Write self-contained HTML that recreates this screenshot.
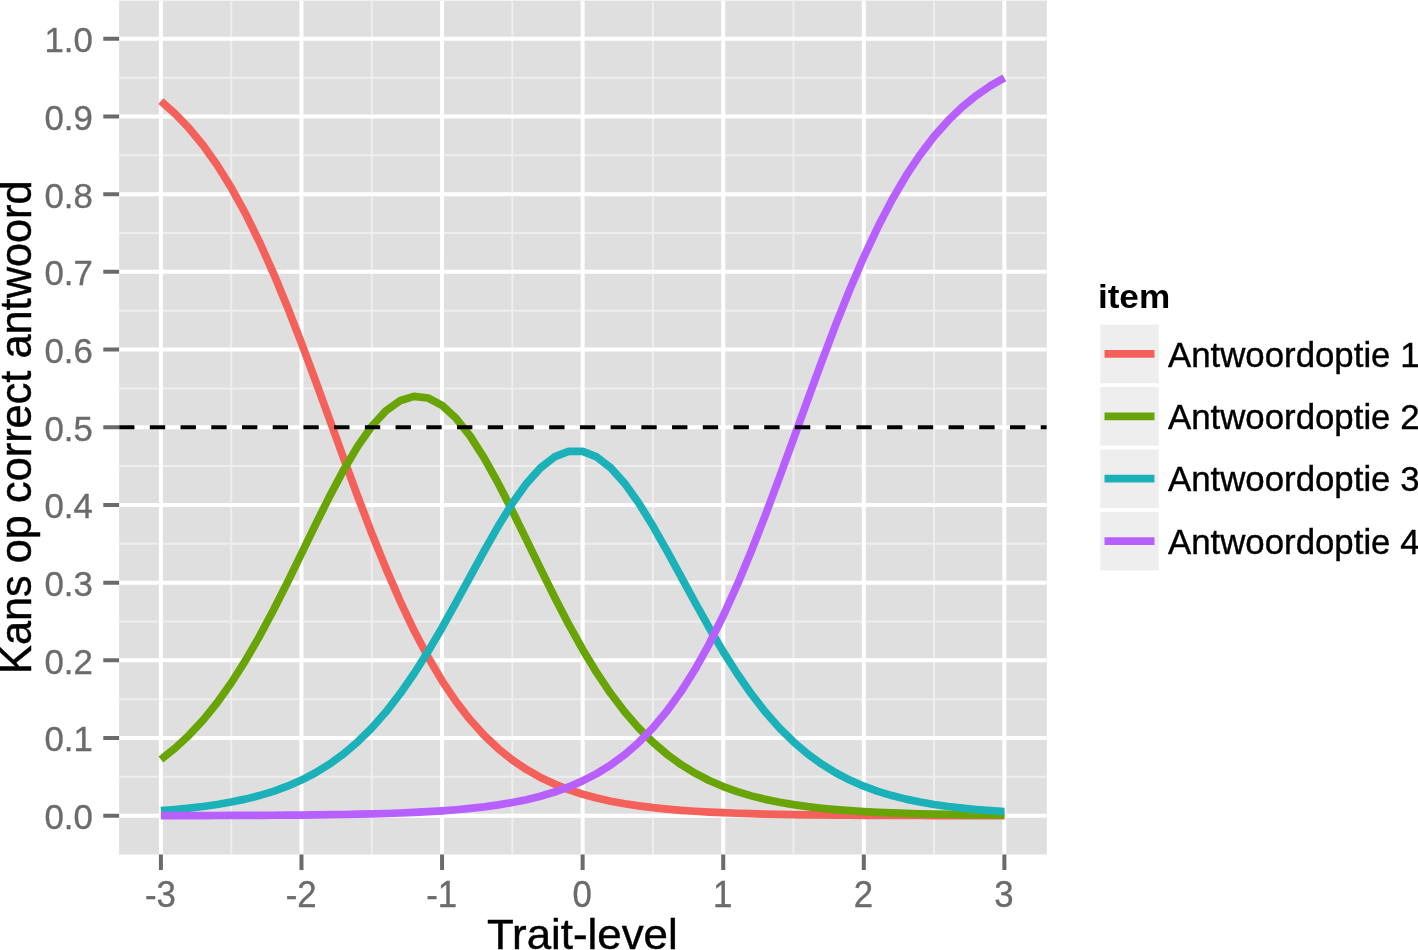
<!DOCTYPE html>
<html lang="nl"><head><meta charset="utf-8"><title>Trait-level</title>
<style>html,body{margin:0;padding:0;background:#fff;overflow:hidden}svg{display:block}</style>
</head><body>
<svg width="1418" height="950" viewBox="0 0 1418 950">
<rect x="0" y="0" width="1418" height="950" fill="#ffffff"/>
<rect x="119.1" y="0.6" width="927.7" height="853.9" fill="#DFDFDF"/>
<clipPath id="pc"><rect x="119.1" y="0.6" width="927.7" height="853.9"/></clipPath>
<g clip-path="url(#pc)">
<path d="M119.1 776.86H1046.8M119.1 699.17H1046.8M119.1 621.48H1046.8M119.1 543.79H1046.8M119.1 466.10H1046.8M119.1 388.41H1046.8M119.1 310.71H1046.8M119.1 233.02H1046.8M119.1 155.34H1046.8M119.1 77.64H1046.8M231.19 0.6V854.5M371.77 0.6V854.5M512.35 0.6V854.5M652.93 0.6V854.5M793.51 0.6V854.5M934.09 0.6V854.5" stroke="#EEEEEE" stroke-width="2" fill="none"/>
<path d="M119.1 815.70H1046.8M119.1 738.01H1046.8M119.1 660.32H1046.8M119.1 582.63H1046.8M119.1 504.94H1046.8M119.1 427.25H1046.8M119.1 349.56H1046.8M119.1 271.87H1046.8M119.1 194.18H1046.8M119.1 116.49H1046.8M119.1 38.80H1046.8M160.90 0.6V854.5M301.48 0.6V854.5M442.06 0.6V854.5M582.64 0.6V854.5M723.22 0.6V854.5M863.80 0.6V854.5M1004.38 0.6V854.5" stroke="#ffffff" stroke-width="4" fill="none"/>
<polyline points="160.90,101.09 174.96,113.55 189.02,128.20 203.07,145.28 217.13,165.02 231.19,187.61 245.25,213.16 259.31,241.69 273.36,273.06 287.42,307.02 301.48,343.14 315.54,380.86 329.60,419.48 343.65,458.26 357.71,496.43 371.77,533.26 385.83,568.14 399.89,600.59 413.94,630.28 428.00,657.03 442.06,680.79 456.12,701.66 470.18,719.78 484.23,735.37 498.29,748.67 512.35,759.95 526.41,769.46 540.47,777.43 554.52,784.08 568.58,789.62 582.64,794.22 596.70,798.02 610.76,801.17 624.81,803.76 638.87,805.90 652.93,807.66 666.99,809.10 681.05,810.29 695.10,811.26 709.16,812.06 723.22,812.72 737.28,813.26 751.34,813.70 765.39,814.06 779.45,814.36 793.51,814.60 807.57,814.80 821.63,814.96 835.68,815.10 849.74,815.21 863.80,815.30 877.86,815.37 891.92,815.43 905.97,815.48 920.03,815.52 934.09,815.55 948.15,815.58 962.21,815.60 976.26,815.62 990.32,815.63 1004.38,815.65" fill="none" stroke="#F4605A" stroke-width="7.7" stroke-linejoin="round" stroke-linecap="butt"/>
<polyline points="160.90,759.41 174.96,748.26 189.02,735.22 203.07,720.09 217.13,702.71 231.19,682.98 245.25,660.90 259.31,636.58 273.36,610.27 287.42,582.41 301.48,553.60 315.54,524.62 329.60,496.39 343.65,469.92 357.71,446.21 371.77,426.25 385.83,410.89 399.89,400.80 413.94,396.43 428.00,397.97 442.06,405.36 456.12,418.26 470.18,436.11 484.23,458.13 498.29,483.40 512.35,510.92 526.41,539.66 540.47,568.65 554.52,597.06 568.58,624.18 582.64,649.49 596.70,672.67 610.76,693.53 624.81,712.03 638.87,728.23 652.93,742.25 666.99,754.29 681.05,764.53 695.10,773.19 709.16,780.47 723.22,786.57 737.28,791.65 751.34,795.88 765.39,799.38 779.45,802.28 793.51,804.67 807.57,806.64 821.63,808.26 835.68,809.60 849.74,810.70 863.80,811.60 877.86,812.34 891.92,812.94 905.97,813.44 920.03,813.85 934.09,814.18 948.15,814.46 962.21,814.68 976.26,814.87 990.32,815.02 1004.38,815.14" fill="none" stroke="#68A406" stroke-width="7.7" stroke-linejoin="round" stroke-linecap="butt"/>
<polyline points="160.90,810.61 174.96,809.49 189.02,808.14 203.07,806.49 217.13,804.49 231.19,802.06 245.25,799.13 259.31,795.58 273.36,791.31 287.42,786.18 301.48,780.04 315.54,772.72 329.60,764.04 343.65,753.81 357.71,741.84 371.77,727.96 385.83,712.03 399.89,693.98 413.94,673.79 428.00,651.61 442.06,627.69 456.12,602.47 470.18,576.58 484.23,550.80 498.29,526.04 512.35,503.31 526.41,483.61 540.47,467.89 554.52,456.94 568.58,451.31 582.64,451.31 596.70,456.94 610.76,467.89 624.81,483.61 638.87,503.31 652.93,526.04 666.99,550.80 681.05,576.58 695.10,602.47 709.16,627.69 723.22,651.61 737.28,673.79 751.34,693.98 765.39,712.03 779.45,727.96 793.51,741.84 807.57,753.81 821.63,764.04 835.68,772.72 849.74,780.04 863.80,786.18 877.86,791.31 891.92,795.58 905.97,799.13 920.03,802.06 934.09,804.49 948.15,806.49 962.21,808.14 976.26,809.49 990.32,810.61 1004.38,811.53" fill="none" stroke="#1BB1B9" stroke-width="7.7" stroke-linejoin="round" stroke-linecap="butt"/>
<polyline points="160.90,815.61 174.96,815.59 189.02,815.57 203.07,815.54 217.13,815.50 231.19,815.45 245.25,815.40 259.31,815.33 273.36,815.25 287.42,815.15 301.48,815.03 315.54,814.89 329.60,814.71 343.65,814.49 357.71,814.22 371.77,813.89 385.83,813.49 399.89,813.00 413.94,812.41 428.00,811.68 442.06,810.80 456.12,809.72 470.18,808.41 484.23,806.82 498.29,804.88 512.35,802.53 526.41,799.67 540.47,796.21 554.52,792.03 568.58,786.98 582.64,780.90 596.70,773.62 610.76,764.91 624.81,754.55 638.87,742.29 652.93,727.87 666.99,711.05 681.05,691.58 695.10,669.28 709.16,644.03 723.22,615.80 737.28,584.70 751.34,550.98 765.39,515.05 779.45,477.47 793.51,438.90 807.57,400.10 821.63,361.84 835.68,324.84 849.74,289.74 863.80,257.03 877.86,227.06 891.92,200.01 905.97,175.95 920.03,154.80 934.09,136.42 948.15,120.58 962.21,107.06 976.26,95.59 990.32,85.92 1004.38,77.81" fill="none" stroke="#B85FFF" stroke-width="7.7" stroke-linejoin="round" stroke-linecap="butt"/>
<path d="M119.1 427.25H1046.8" stroke="#000000" stroke-width="3.85" stroke-dasharray="15.36 15.36" fill="none"/>
</g>
<path d="M103.3 815.70H119.1M103.3 738.01H119.1M103.3 660.32H119.1M103.3 582.63H119.1M103.3 504.94H119.1M103.3 427.25H119.1M103.3 349.56H119.1M103.3 271.87H119.1M103.3 194.18H119.1M103.3 116.49H119.1M103.3 38.80H119.1M160.90 854.5V870.1M301.48 854.5V870.1M442.06 854.5V870.1M582.64 854.5V870.1M723.22 854.5V870.1M863.80 854.5V870.1M1004.38 854.5V870.1" stroke="#6B6B6B" stroke-width="4" fill="none"/>
<g font-family="'Liberation Sans', Arial, Helvetica, sans-serif" font-size="34.8" fill="#6B6B6B" stroke="#6B6B6B" stroke-width="0.35">
<text transform="translate(92.9,829.0) scale(1,1.035)" text-anchor="end">0.0</text>
<text transform="translate(92.9,751.3) scale(1,1.035)" text-anchor="end">0.1</text>
<text transform="translate(92.9,673.6) scale(1,1.035)" text-anchor="end">0.2</text>
<text transform="translate(92.9,595.9) scale(1,1.035)" text-anchor="end">0.3</text>
<text transform="translate(92.9,518.2) scale(1,1.035)" text-anchor="end">0.4</text>
<text transform="translate(92.9,440.6) scale(1,1.035)" text-anchor="end">0.5</text>
<text transform="translate(92.9,362.9) scale(1,1.035)" text-anchor="end">0.6</text>
<text transform="translate(92.9,285.2) scale(1,1.035)" text-anchor="end">0.7</text>
<text transform="translate(92.9,207.5) scale(1,1.035)" text-anchor="end">0.8</text>
<text transform="translate(92.9,129.8) scale(1,1.035)" text-anchor="end">0.9</text>
<text transform="translate(92.9,52.1) scale(1,1.035)" text-anchor="end">1.0</text>
<text transform="translate(160.5,906.5) scale(1,1.04)" text-anchor="middle">-3</text>
<text transform="translate(301.1,906.5) scale(1,1.04)" text-anchor="middle">-2</text>
<text transform="translate(441.7,906.5) scale(1,1.04)" text-anchor="middle">-1</text>
<text transform="translate(582.2,906.5) scale(1,1.04)" text-anchor="middle">0</text>
<text transform="translate(722.8,906.5) scale(1,1.04)" text-anchor="middle">1</text>
<text transform="translate(863.4,906.5) scale(1,1.04)" text-anchor="middle">2</text>
<text transform="translate(1004.0,906.5) scale(1,1.04)" text-anchor="middle">3</text>
</g>
<g font-family="'Liberation Sans', Arial, Helvetica, sans-serif" font-size="43.2" fill="#000000" stroke="#000000" stroke-width="0.45">
<text transform="translate(582.3,948.6) scale(1.015,1)" text-anchor="middle">Trait-level</text>
<text transform="translate(31.2,427.2) rotate(-90) scale(1.003,1.02)" text-anchor="middle">Kans op correct antwoord</text>
</g>
<text transform="translate(1097.9,307.8) scale(1.01,0.94)" font-family="'Liberation Sans', Arial, Helvetica, sans-serif" font-size="34.8" font-weight="bold" fill="#000">item</text>
<rect x="1100.2" y="324.6" width="58.6" height="58.6" fill="#EEEEEE"/>
<path d="M1104.5 353.9H1154.5" stroke="#F4605A" stroke-width="7.8"/>
<text x="1168.0" y="366.6" font-family="'Liberation Sans', Arial, Helvetica, sans-serif" font-size="34.8" fill="#000" stroke="#000" stroke-width="0.4">Antwoordoptie 1</text>
<rect x="1100.2" y="387.0" width="58.6" height="58.6" fill="#EEEEEE"/>
<path d="M1104.5 416.3H1154.5" stroke="#68A406" stroke-width="7.8"/>
<text x="1168.0" y="429.0" font-family="'Liberation Sans', Arial, Helvetica, sans-serif" font-size="34.8" fill="#000" stroke="#000" stroke-width="0.4">Antwoordoptie 2</text>
<rect x="1100.2" y="449.4" width="58.6" height="58.6" fill="#EEEEEE"/>
<path d="M1104.5 478.7H1154.5" stroke="#1BB1B9" stroke-width="7.8"/>
<text x="1168.0" y="491.4" font-family="'Liberation Sans', Arial, Helvetica, sans-serif" font-size="34.8" fill="#000" stroke="#000" stroke-width="0.4">Antwoordoptie 3</text>
<rect x="1100.2" y="511.8" width="58.6" height="58.6" fill="#EEEEEE"/>
<path d="M1104.5 541.1H1154.5" stroke="#B85FFF" stroke-width="7.8"/>
<text x="1168.0" y="553.8" font-family="'Liberation Sans', Arial, Helvetica, sans-serif" font-size="34.8" fill="#000" stroke="#000" stroke-width="0.4">Antwoordoptie 4</text>
</svg>
</body></html>
